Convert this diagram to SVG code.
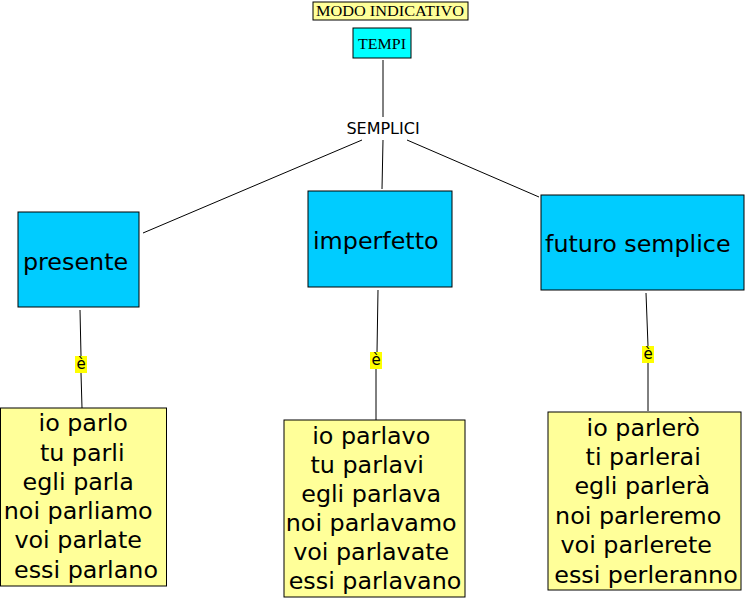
<svg xmlns="http://www.w3.org/2000/svg" width="747" height="599" viewBox="0 0 747 599">
<style>
.sans{font-family:"DejaVu Sans",Verdana,sans-serif;fill:#000}
.serif{font-family:"Liberation Serif","Times New Roman",serif;fill:#000}
.big{font-size:23.8px}
.blue{fill:#00CCFF;stroke:#000;stroke-width:1}
.yel{fill:#FFFF99;stroke:#000;stroke-width:1}
.ln{stroke:#000;stroke-width:1;fill:none}
.lbl{fill:#FFFF00}
.mid{text-anchor:middle}
</style>
<rect width="747" height="599" fill="#fff"/>
<g id="connectors">
<line class="ln" x1="383" y1="60" x2="383" y2="117"/>
<line class="ln" x1="362" y1="140" x2="143" y2="233"/>
<line class="ln" x1="383" y1="140" x2="382" y2="189"/>
<line class="ln" x1="407" y1="140" x2="539" y2="197"/>
<line class="ln" x1="80" y1="310" x2="81" y2="356"/>
<line class="ln" x1="81" y1="373" x2="82" y2="408"/>
<rect class="lbl" x="75" y="356" width="12" height="17"/>
<text class="sans mid" x="81" y="369" font-size="15">è</text>
<line class="ln" x1="378" y1="290" x2="377" y2="352"/>
<line class="ln" x1="376" y1="369" x2="376" y2="420"/>
<rect class="lbl" x="370" y="352" width="12" height="17"/>
<text class="sans mid" x="376" y="365" font-size="15">è</text>
<line class="ln" x1="646" y1="293" x2="648" y2="346"/>
<line class="ln" x1="648" y1="363" x2="648" y2="411"/>
<rect class="lbl" x="642" y="346" width="12" height="17"/>
<text class="sans mid" x="648" y="359" font-size="15">è</text>
</g>
<g id="modo">
<rect x="313" y="2" width="155" height="18" fill="#FFFF99" stroke="#000"/>
<text class="serif" x="316" y="16" font-size="14" textLength="148" lengthAdjust="spacingAndGlyphs">MODO INDICATIVO</text>
</g>
<g id="tempi">
<rect x="353" y="28" width="58" height="30" fill="#00FFFF" stroke="#000"/>
<text class="serif" x="358" y="49" font-size="14" textLength="48" lengthAdjust="spacingAndGlyphs">TEMPI</text>
</g>
<g id="semplici">
<text class="sans mid" x="383" y="134" font-size="16">SEMPLICI</text>
</g>
<g id="presente">
<rect class="blue" x="18" y="212" width="121" height="95"/>
<text class="sans big" x="23" y="270">presente</text>
</g>
<g id="imperfetto">
<rect class="blue" x="308" y="191" width="144" height="96"/>
<text class="sans big" x="313" y="249">imperfetto</text>
</g>
<g id="futuro">
<rect class="blue" x="541" y="195" width="203" height="95"/>
<text class="sans big" x="545" y="252">futuro semplice</text>
</g>
<g id="presente-forme">
<rect class="yel" x="0.5" y="408" width="166" height="178"/>
<text class="sans big mid">
<tspan x="87" y="431">io parlo</tspan>
<tspan x="86" y="461">tu parli</tspan>
<tspan x="82" y="490">egli parla</tspan>
<tspan x="82" y="519">noi parliamo</tspan>
<tspan x="82" y="548">voi parlate</tspan>
<tspan x="86" y="578">essi parlano</tspan>
</text>
</g>
<g id="imperfetto-forme">
<rect class="yel" x="284" y="420" width="181" height="177"/>
<text class="sans big mid">
<tspan x="375" y="444">io parlavo</tspan>
<tspan x="371" y="473">tu parlavi</tspan>
<tspan x="375" y="502">egli parlava</tspan>
<tspan x="375" y="531">noi parlavamo</tspan>
<tspan x="375" y="560">voi parlavate</tspan>
<tspan x="375" y="589">essi parlavano</tspan>
</text>
</g>
<g id="futuro-forme">
<rect class="yel" x="548" y="412" width="193" height="178"/>
<text class="sans big mid">
<tspan x="647" y="436">io parlerò</tspan>
<tspan x="647" y="465">ti parlerai</tspan>
<tspan x="646" y="494">egli parlerà</tspan>
<tspan x="642" y="524">noi parleremo</tspan>
<tspan x="640" y="553">voi parlerete</tspan>
<tspan x="646" y="583">essi perleranno</tspan>
</text>
</g>
</svg>
